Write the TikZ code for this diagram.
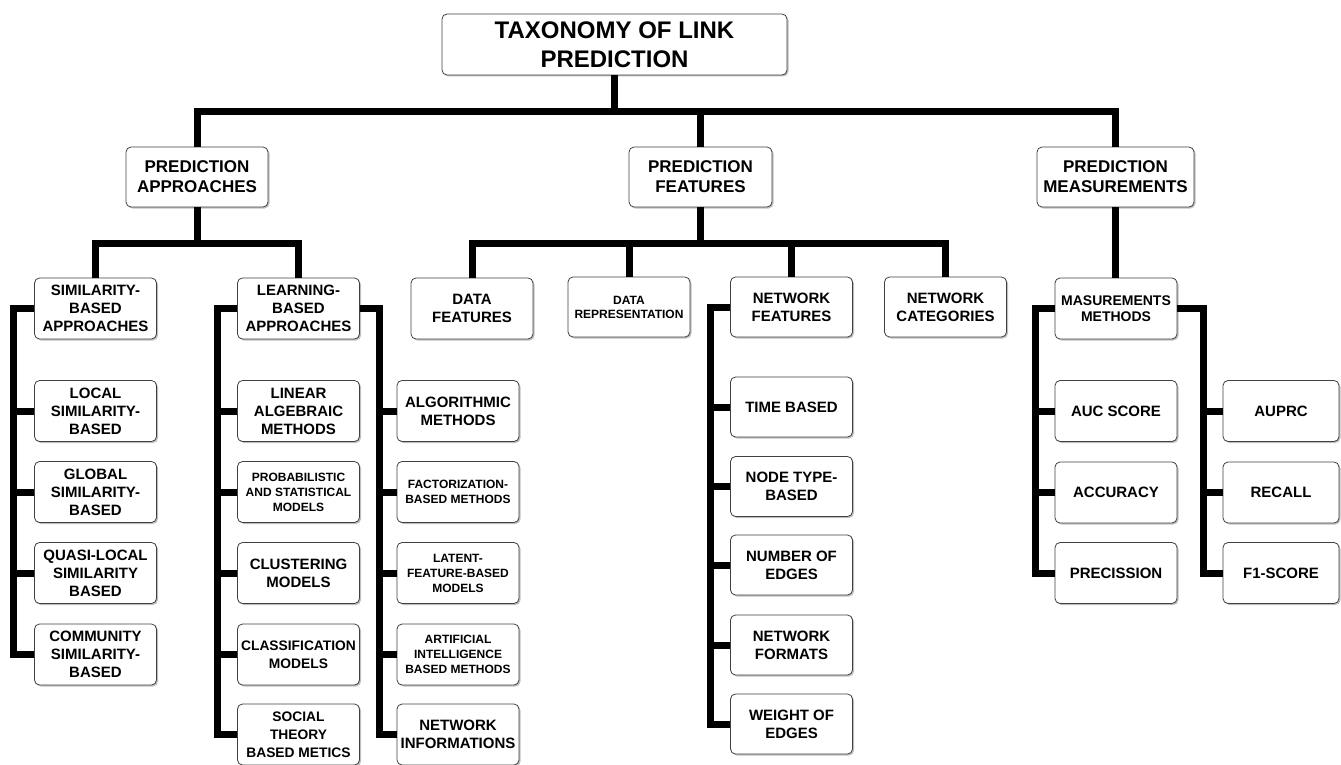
\documentclass[tikz,border=0pt]{standalone}
\usepackage{fontspec}
\setmainfont{Liberation Sans}
\usetikzlibrary{shadows}

\tikzset{
  box/.style={draw=black!75, line width=0.8pt, rounded corners=5pt, fill=white,
    drop shadow={shadow xshift=1.5pt, shadow yshift=-1.5pt, fill=black!50, opacity=0.5},
    align=center, inner sep=0pt, minimum width=122pt, minimum height=61pt,
    font=\bfseries\fontsize{15}{18}\selectfont},
  smallbox/.style={box, font=\bfseries\fontsize{12}{15}\selectfont},
  tightbox/.style={box, font=\bfseries\fontsize{13.8}{18}\selectfont},
  topbox/.style={box, minimum width=142pt, minimum height=60pt,
    font=\bfseries\fontsize{17}{20}\selectfont},
  titlebox/.style={box, minimum width=345pt, minimum height=61pt,
    font=\bfseries\fontsize{24}{28.5}\selectfont},
  link/.style={line width=7pt},
}

\begin{document}
\begin{tikzpicture}[x=1pt,y=-1pt]
  \useasboundingbox (0,0) rectangle (1341,765);

  % Root and first level
  \node[titlebox] (root) at (614.5,44.5) {TAXONOMY OF LINK\\PREDICTION};
  \node[topbox] (appr) at (197,177) {PREDICTION\\APPROACHES};
  \node[topbox, minimum width=143pt] (feat) at (700.5,177) {PREDICTION\\FEATURES};
  \node[topbox, minimum width=157pt] (meas) at (1115.5,177) {PREDICTION\\MEASUREMENTS};

  \coordinate (topbar) at (0,112);
  \draw[link] (root.south) -- (root.south |- topbar);
  \draw[link] (appr.north) |- (meas.north |- topbar) -- (meas.north);
  \draw[link] (feat.north) -- (feat.north |- topbar);

  % Second level
  \node[box] (sim) at (95.5,308.5) {SIMILARITY-\\BASED\\APPROACHES};
  \node[box] (learn) at (298.5,308.5) {LEARNING-\\BASED\\APPROACHES};
  \node[box] (dfeat) at (472,308.5) {DATA\\FEATURES};
  \node[box, minimum height=60pt, font=\bfseries\fontsize{12}{14}\selectfont] (drep) at (629,307) {DATA\\REPRESENTATION};
  \node[box, minimum height=60pt] (nfeat) at (791.5,307) {NETWORK\\FEATURES};
  \node[box, minimum height=60pt] (ncat) at (945.5,307) {NETWORK\\CATEGORIES};
  \node[box, font=\bfseries\fontsize{14}{16.5}\selectfont] (mmeth) at (1116,308.5) {MASUREMENTS\\METHODS};

  \coordinate (midbar) at (0,243);
  \draw[link] (appr.south) -- (appr.south |- midbar);
  \draw[link] (sim.north) |- (learn.north |- midbar) -- (learn.north);
  \draw[link] (feat.south) -- (feat.south |- midbar);
  \draw[link] (dfeat.north) |- (ncat.north |- midbar) -- (ncat.north);
  \foreach \nm in {drep,nfeat}
    \draw[link] (\nm.north) -- (\nm.north |- midbar);
  \draw[link] (meas.south) -- (meas.south |- mmeth.north);

  % Similarity-based approaches
  \foreach \nm/\y/\txt in {loc/411/LOCAL\\SIMILARITY-\\BASED,
      glob/492/GLOBAL\\SIMILARITY-\\BASED,
      quasi/573/QUASI-LOCAL\\SIMILARITY\\BASED,
      comm/654.5/COMMUNITY\\SIMILARITY-\\BASED}
    \node[box] (\nm) at (95.5,\y) {\txt};

  \coordinate (simbus) at (13,654.5);
  \draw[link] (sim.west) -| (simbus) -- (comm.west);
  \foreach \nm in {loc,glob,quasi}
    \draw[link] (\nm.west -| simbus) -- (\nm.west);

  % Learning-based approaches
  \foreach \nm/\y/\sty/\txt in {lin/411/box/LINEAR\\ALGEBRAIC\\METHODS,
      prob/492/smallbox/PROBABILISTIC\\AND STATISTICAL\\MODELS,
      clus/573/box/CLUSTERING\\MODELS,
      clas/654.5/tightbox/CLASSIFICATION\\MODELS,
      soc/734.5/tightbox/SOCIAL\\THEORY\\BASED METICS}
    \node[\sty] (\nm) at (298.5,\y) {\txt};
  \foreach \nm/\y/\sty/\txt in {algo/411/box/ALGORITHMIC\\METHODS,
      fact/492/smallbox/FACTORIZATION-\\BASED METHODS,
      lat/573/smallbox/LATENT-\\FEATURE-BASED\\MODELS,
      ai/654.5/smallbox/ARTIFICIAL\\INTELLIGENCE\\BASED METHODS,
      ninf/734.5/box/NETWORK\\INFORMATIONS}
    \node[\sty] (\nm) at (458,\y) {\txt};

  \coordinate (lbus) at (217,734.5);
  \coordinate (rbus) at (379,734.5);
  \draw[link] (learn.west) -| (lbus) -- (soc.west);
  \draw[link] (learn.east) -| (rbus) -- (ninf.west);
  \foreach \nm in {lin,prob,clus,clas}
    \draw[link] (\nm.west -| lbus) -- (\nm.west);
  \foreach \nm in {algo,fact,lat,ai}
    \draw[link] (\nm.west -| rbus) -- (\nm.west);

  % Network features
  \foreach \nm/\y/\txt in {time/407/TIME BASED,
      ntype/486.5/NODE TYPE-\\BASED,
      nedge/565/NUMBER OF\\EDGES,
      nform/645/NETWORK\\FORMATS,
      wedge/724/WEIGHT OF\\EDGES}
    \node[box, minimum height=60pt] (\nm) at (791.5,\y) {\txt};

  \coordinate (nbus) at (710,724);
  \draw[link] (nfeat.west) -| (nbus) -- (wedge.west);
  \foreach \nm in {time,ntype,nedge,nform}
    \draw[link] (\nm.west -| nbus) -- (\nm.west);

  % Measurement methods
  \foreach \nm/\y/\txt in {auc/411/AUC SCORE, acc/492.5/ACCURACY, prec/573/PRECISSION}
    \node[box] (\nm) at (1116,\y) {\txt};
  \foreach \nm/\y/\txt in {auprc/411/AUPRC, rec/492.5/RECALL, fone/573/F1-SCORE}
    \node[box, minimum width=116pt] (\nm) at (1281,\y) {\txt};

  \coordinate (mlbus) at (1035,573);
  \coordinate (mrbus) at (1203,573);
  \draw[link] (mmeth.west) -| (mlbus) -- (prec.west);
  \draw[link] (mmeth.east) -| (mrbus) -- (fone.west);
  \foreach \nm in {auc,acc}
    \draw[link] (\nm.west -| mlbus) -- (\nm.west);
  \foreach \nm in {auprc,rec}
    \draw[link] (\nm.west -| mrbus) -- (\nm.west);
\end{tikzpicture}
\end{document}
